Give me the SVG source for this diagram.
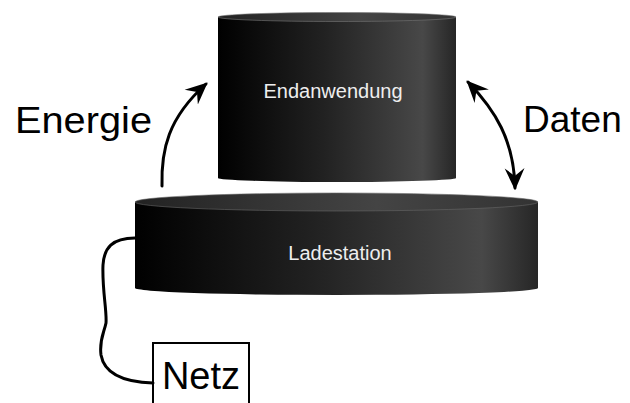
<svg xmlns="http://www.w3.org/2000/svg" width="630" height="403" viewBox="0 0 630 403">
<defs>
<linearGradient id="body" x1="0" y1="0" x2="1" y2="0">
<stop offset="0" stop-color="#000"/>
<stop offset="0.45" stop-color="#222"/>
<stop offset="0.86" stop-color="#484848"/>
<stop offset="1" stop-color="#262626"/>
</linearGradient>
<linearGradient id="lid" x1="0" y1="0" x2="1" y2="0">
<stop offset="0" stop-color="#222"/>
<stop offset="0.6" stop-color="#444"/>
<stop offset="1" stop-color="#333"/>
</linearGradient>
<marker id="ah" viewBox="0 0 10 10" refX="9" refY="5" markerWidth="7" markerHeight="7" markerUnits="userSpaceOnUse" orient="auto-start-reverse">
<path d="M0,0 L10,5 L0,10 L3,5 Z" fill="#000"/>
</marker>
<marker id="ah2" viewBox="0 0 10 10" refX="9" refY="5" markerWidth="22" markerHeight="22" markerUnits="userSpaceOnUse" orient="auto-start-reverse">
<path d="M0,0.5 L10,5 L0,9.5 L3.5,5 Z" fill="#000"/>
</marker>
<style>
.lbl{font-family:"Liberation Sans",Arial,sans-serif;fill:#000}
.in{font-family:"Liberation Sans",Arial,sans-serif;fill:#eee;font-size:20px;text-anchor:middle}
.wire{fill:none;stroke:#000;stroke-width:3;stroke-linecap:round}
</style>
</defs>
<g id="ladestation">
<path d="M135,202 L135,288 A201.5,7 0 0 0 538,288 L538,202 Z" fill="url(#body)"/>
<ellipse cx="336.5" cy="202" rx="201.5" ry="9" fill="url(#lid)" stroke="#666" stroke-width="0.6"/>
<text class="in" x="340" y="260">Ladestation</text>
</g>
<g id="endanwendung">
<path d="M218,17 L218,178 A119,4 0 0 0 456,178 L456,17 Z" fill="url(#body)"/>
<ellipse cx="337" cy="17" rx="119" ry="4.5" fill="url(#lid)" stroke="#777" stroke-width="0.6"/>
<text class="in" x="333" y="98">Endanwendung</text>
</g>
<g id="netz">
<rect x="153" y="343" width="96" height="70" fill="#fff" stroke="#000" stroke-width="2"/>
<text class="lbl" x="201" y="389" font-size="38" text-anchor="middle">Netz</text>
</g>
<g id="connectors">
<path class="wire" d="M135,238 C112,238 104,248 103,265 C102,290 107,310 106,323 C104,333 99,340 101,355 C104,372 120,382 153,383"/>
<path class="wire" d="M162,186 C161,150 168,118 206,84" marker-end="url(#ah2)"/>
<path class="wire" d="M468,82 C495,110 514,140 515,188" marker-start="url(#ah2)" marker-end="url(#ah2)"/>
</g>
<text class="lbl" x="15" y="133" font-size="37" textLength="137" lengthAdjust="spacingAndGlyphs">Energie</text>
<text class="lbl" x="523" y="132" font-size="37">Daten</text>
</svg>
